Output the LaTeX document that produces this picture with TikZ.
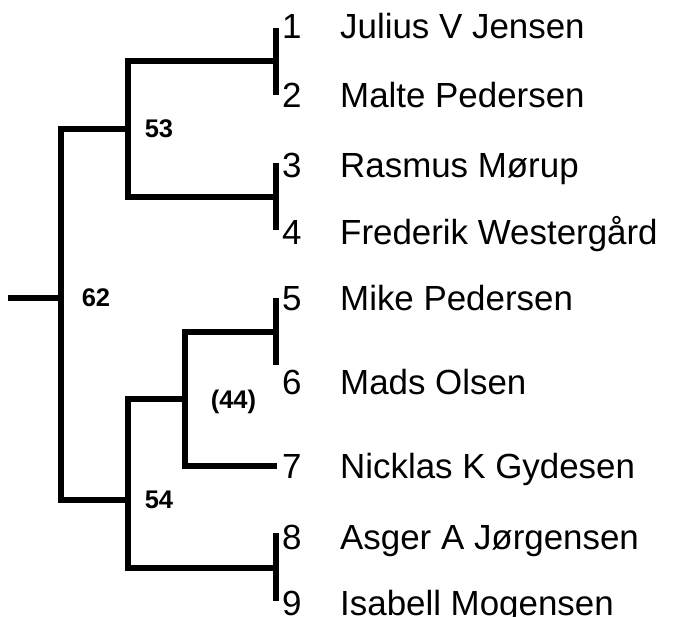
\documentclass[tikz,border=0pt]{standalone}
\usepackage{fontspec}
\setmainfont{Liberation Sans}
\begin{document}
\begin{tikzpicture}[x=1pt,y=-1pt,
  br/.style={line width=6pt,line join=miter,line cap=butt},
  leaf/.style={anchor=base west,inner sep=0pt,font=\fontsize{34.9}{40}\selectfont},
  boot/.style={anchor=base,inner sep=0pt,font=\fontsize{25.5}{30}\selectfont\bfseries}]
\useasboundingbox (0,0) rectangle (677,617);
% coordinates
\coordinate (stub) at (8,298);
\coordinate (root) at (61,298);
\coordinate (n53) at (128,129);
\coordinate (n54) at (128,500);
\coordinate (n44) at (185,399);
\coordinate (c44) at (128,399);
\coordinate (l1) at (276,28);
\coordinate (l2) at (276,95);
\coordinate (j12) at (276,61);
\coordinate (l3) at (276,163);
\coordinate (l4) at (276,230);
\coordinate (j34) at (276,197);
\coordinate (l5) at (276,298);
\coordinate (l6) at (276,365);
\coordinate (j56) at (276,332);
\coordinate (l7) at (277,466);
\coordinate (l8) at (276,533);
\coordinate (l9) at (276,601);
\coordinate (j89) at (276,568);
% branches
\draw[br] (stub) -- (root);
\draw[br] (n53) -| (root) |- (n54);
\draw[br] (j12) -| (n53) |- (j34);
\draw[br] (n44) -- (c44) |- (j89);
\draw[br] (j56) -| (n44) |- (l7);
\draw[br] (l1) -- (l2);
\draw[br] (l3) -- (l4);
\draw[br] (l5) -- (l6);
\draw[br] (l8) -- (l9);
% bootstrap labels
\node[boot] (b53) at (159,138) {53};
\node[boot] (b62) at (96,307) {62};
\node[boot] (b44) at (233.5,408) {(44)};
\node[boot] (b54) at (159,508) {54};
% leaf labels
\node[leaf] (k1) at (282,38.4) {1};
\node[leaf] (t1) at (340,38.4) {Julius V Jensen};
\node[leaf] (k2) at (282,107.4) {2};
\node[leaf] (t2) at (340,107.4) {Malte Pedersen};
\node[leaf] (k3) at (282,177.4) {3};
\node[leaf] (t3) at (340,177.4) {Rasmus Mørup};
\node[leaf] (k4) at (282,244.4) {4};
\node[leaf] (t4) at (340,244.4) {Frederik Westergård};
\node[leaf] (k5) at (282,310.4) {5};
\node[leaf] (t5) at (340,310.4) {Mike Pedersen};
\node[leaf] (k6) at (282,394.4) {6};
\node[leaf] (t6) at (340,394.4) {Mads Olsen};
\node[leaf] (k7) at (282,478.4) {7};
\node[leaf] (t7) at (340,478.4) {Nicklas K Gydesen};
\node[leaf] (k8) at (282,549.4) {8};
\node[leaf] (t8) at (340,549.4) {Asger A Jørgensen};
\node[leaf] (k9) at (282,615) {9};
\node[leaf] (t9) at (340,615) {Isabell Mogensen};
\end{tikzpicture}
\end{document}
